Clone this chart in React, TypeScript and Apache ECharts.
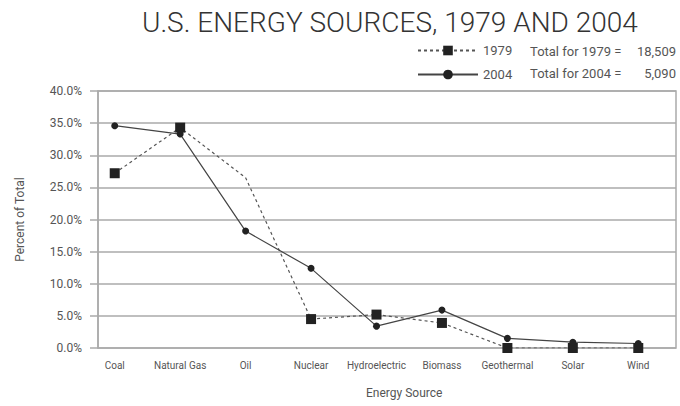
import React, { useEffect, useRef } from "react";
import * as echarts from "echarts";

const categories = ["Coal", "Natural Gas", "Oil", "Nuclear", "Hydroelectric", "Biomass", "Geothermal", "Solar", "Wind"];
const values1979 = [27.2, 34.3, 26.5, 4.5, 5.2, 3.9, 0.0, 0.0, 0.0];
const values2004 = [34.6, 33.3, 18.2, 12.4, 3.4, 5.9, 1.5, 0.9, 0.7];
const markerless1979 = ["Oil"];
const yTicks = { min: 0, max: 40, interval: 5 };
const titleText = "U.S. ENERGY SOURCES, 1979 AND 2004";
const totals = [
  { label: "Total for 1979 =", value: "18,509" },
  { label: "Total for 2004 =", value: "5,090" },
];

const FONT = "Roboto, 'Liberation Sans', sans-serif";
const TXT = "#555";

export default function App() {
  const ref = useRef<HTMLDivElement>(null);
  useEffect(() => {
    if (!ref.current) return;
    const chart = echarts.init(ref.current, null, { renderer: "svg" });
    const plotTop = 91;
    const plotBottom = 58;
    chart.setOption({
      animation: false,
      backgroundColor: "#fff",
      textStyle: { fontFamily: FONT },
      title: {
        text: titleText,
        left: 137,
        top: 3,
        textStyle: { fontSize: 28, fontWeight: 300, color: "#333", fontFamily: FONT },
      },
      legend: {
        orient: "vertical",
        left: 412,
        top: 39,
        itemWidth: 60,
        itemHeight: 12,
        itemGap: 11,
        textStyle: { fontSize: 13, color: TXT, padding: [0, 0, 0, 0] },
        data: ["1979", "2004"],
      },
      grid: [
        { left: 98, right: 4, top: plotTop, bottom: plotBottom, show: true, borderColor: "#aaa", borderWidth: 1.5 },
        { left: 82, right: 9, top: plotTop, bottom: plotBottom },
      ],
      xAxis: [
        { type: "value", gridIndex: 0, show: false, min: 0, max: 1 },
        {
          type: "category",
          gridIndex: 1,
          data: categories,
          boundaryGap: true,
          axisLine: { show: false },
          axisTick: { show: false },
          axisLabel: { fontSize: 10, color: TXT, margin: 12, interval: 0 },
        },
      ],
      yAxis: [
        {
          type: "value",
          gridIndex: 0,
          min: yTicks.min,
          max: yTicks.max,
          interval: yTicks.interval,
          name: "Percent of Total",
          nameLocation: "middle",
          nameGap: 72,
          nameTextStyle: { fontSize: 12, color: TXT },
          axisLine: { show: true, lineStyle: { color: "#aaa", width: 1.5 } },
          axisTick: { show: true, length: 8, lineStyle: { color: "#aaa", width: 1.5 } },
          axisLabel: { fontSize: 12, color: TXT, margin: 16, formatter: (v: number) => v.toFixed(1) + "%" },
          splitLine: { show: true, lineStyle: { color: "#aaa", width: 1.5 } },
        },
        { type: "value", gridIndex: 1, min: yTicks.min, max: yTicks.max, show: false },
      ],
      graphic: [
        {
          type: "text",
          left: 366,
          top: 387,
          style: { text: "Energy Source", fontSize: 12, fill: TXT, fontFamily: FONT },
        },
        ...totals.flatMap((t, i) => [
          {
            type: "text",
            x: 530,
            y: 51 + i * 22,
            style: { text: t.label, fontSize: 13, fill: TXT, fontFamily: FONT, textVerticalAlign: "middle" },
          },
          {
            type: "text",
            x: 676,
            y: 51 + i * 22,
            style: { text: t.value, fontSize: 13, fill: TXT, fontFamily: FONT, textAlign: "right", textVerticalAlign: "middle" },
          },
        ]),
      ],
      series: [
        {
          name: "1979",
          type: "line",
          xAxisIndex: 1,
          yAxisIndex: 1,
          symbol: "rect",
          symbolSize: 10,
          itemStyle: { color: "#222" },
          lineStyle: { color: "#555", width: 1.2, type: [3, 3] },
          data: values1979.map((v, i) =>
            markerless1979.includes(categories[i]) ? { value: v, symbol: "none" } : v
          ),
        },
        {
          name: "2004",
          type: "line",
          xAxisIndex: 1,
          yAxisIndex: 1,
          symbol: "circle",
          symbolSize: 7,
          itemStyle: { color: "#222" },
          lineStyle: { color: "#444", width: 1.2, type: "solid" },
          data: values2004,
        },
      ],
    });
    return () => chart.dispose();
  }, []);
  return <div ref={ref} style={{ position: "absolute", left: 0, top: 0, width: 680, height: 406 }} />;
}
